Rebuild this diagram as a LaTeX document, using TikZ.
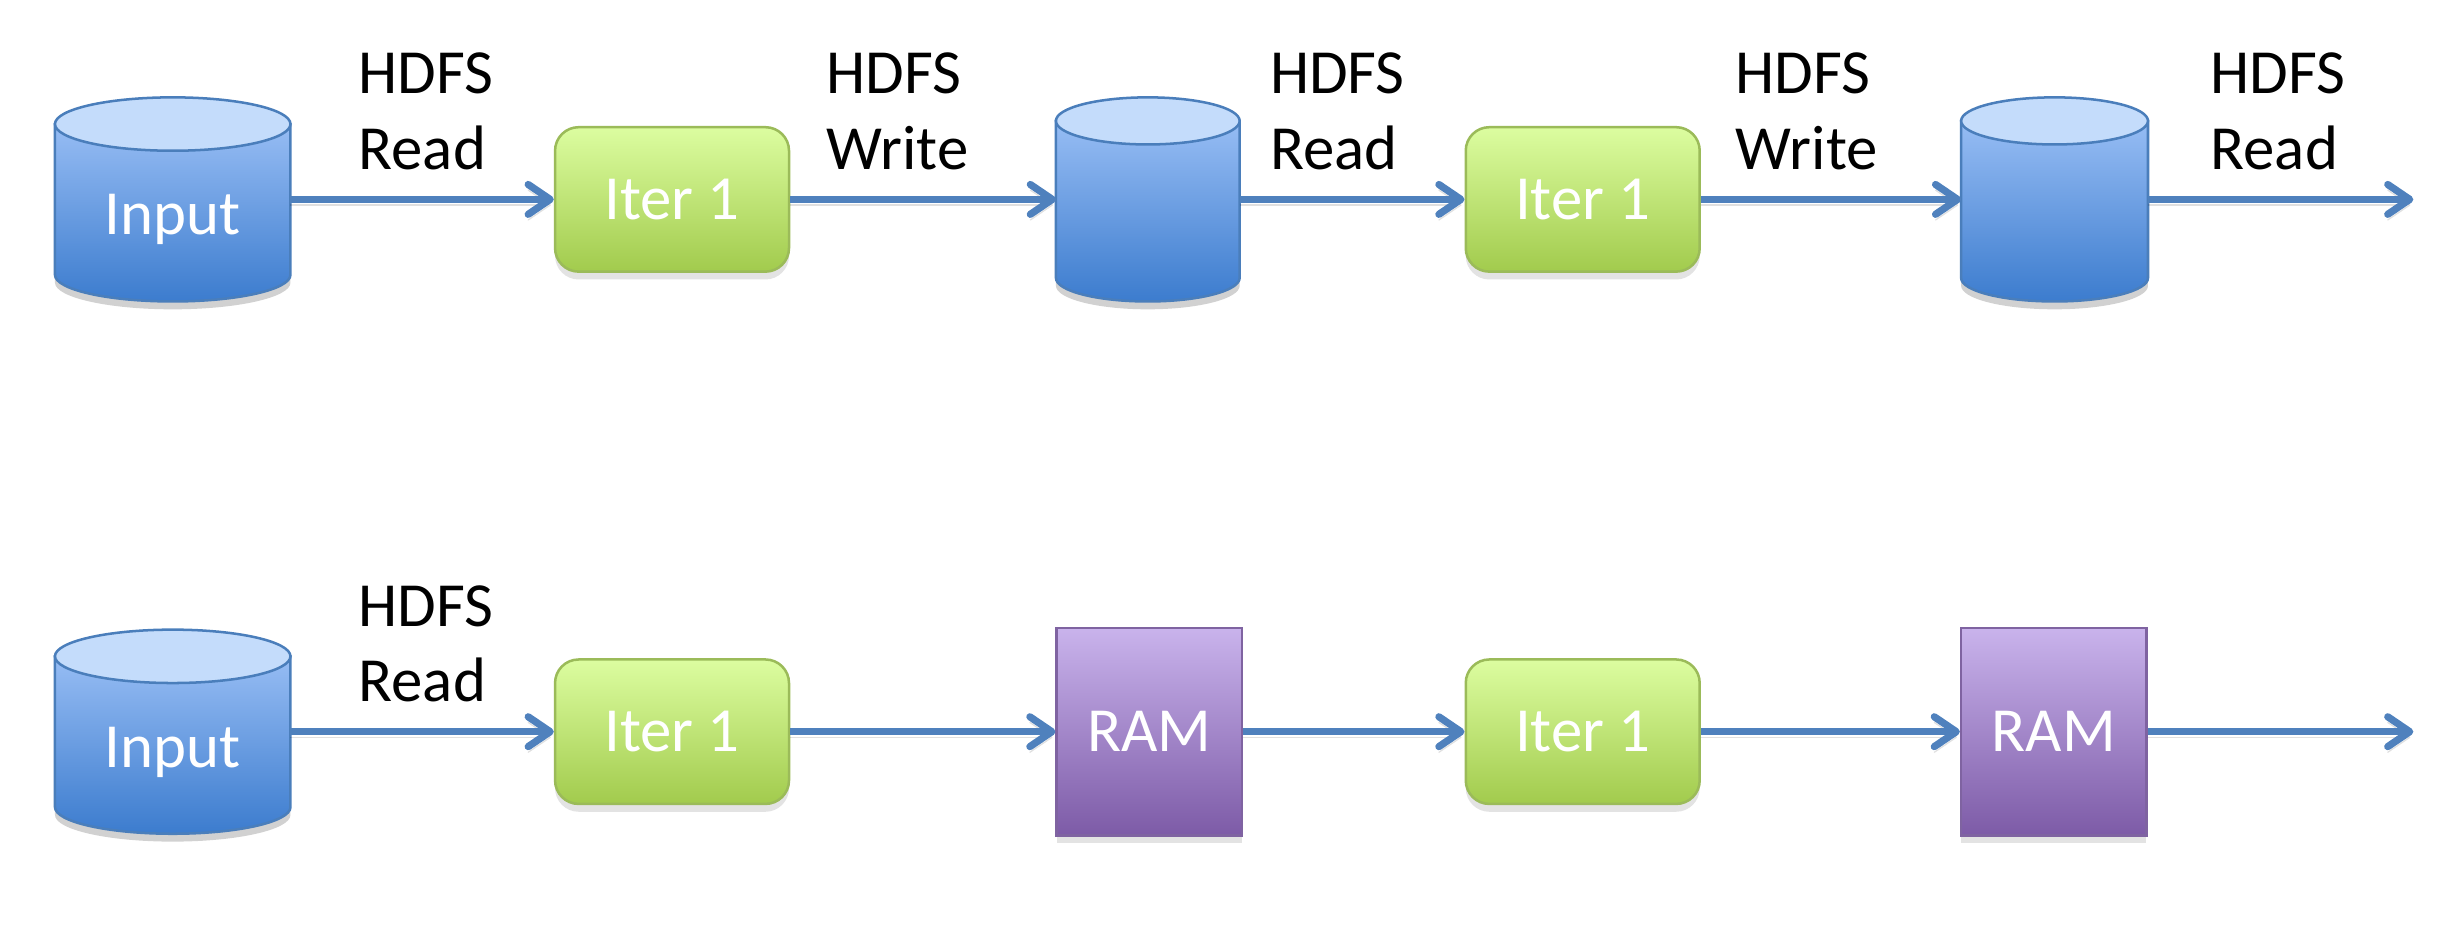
\documentclass[tikz,border=0pt]{standalone}
\usepackage{fontspec}
\setmainfont{Carlito}
\usetikzlibrary{arrows.meta,shadows}
\definecolor{arrowblue}{HTML}{4F81BD}
\definecolor{cylline}{HTML}{4A7EBB}
\definecolor{cyltop}{HTML}{C4DCFB}
\definecolor{cylhi}{HTML}{97BDF4}
\definecolor{cyllo}{HTML}{3C7CCE}
\definecolor{iterhi}{HTML}{DCFDA0}
\definecolor{iterlo}{HTML}{A2CB4D}
\definecolor{iterline}{HTML}{9BBB59}
\definecolor{ramhi}{HTML}{C9B3EC}
\definecolor{ramlo}{HTML}{7D5BA7}
\definecolor{ramline}{HTML}{7F63A1}
\tikzset{
  flow/.style={draw=arrowblue, line width=2.3pt,
    -{Straight Barb[length=7pt,width=9.5pt,line width=2.3pt,round]},
    preaction={draw=black, opacity=0.12, transform canvas={yshift=-1.8pt}}},
  boxfont/.style={font=\fontsize{20}{24}\selectfont},
  iterbox/.style={boxfont, draw=iterline, line width=0.8pt, rounded corners=7.5pt,
    top color=iterhi, bottom color=iterlo, text=white, inner sep=0pt,
    minimum width=74.5pt, minimum height=46pt,
    drop shadow={opacity=0.22, shadow xshift=0pt, shadow yshift=-2.5pt}},
  rambox/.style={boxfont, draw=ramline, line width=0.8pt,
    top color=ramhi, bottom color=ramlo, text=white, inner sep=0pt,
    minimum width=59pt, minimum height=66pt,
    drop shadow={opacity=0.22, shadow xshift=0pt, shadow yshift=-2.5pt}},
  cylbody/.style={draw=cylline, line width=0.8pt, top color=cylhi, bottom color=cyllo},
  cylcap/.style={draw=cylline, line width=0.8pt, fill=cyltop},
  cyltext/.style={boxfont, text=white, inner sep=0pt, anchor=base},
  lbl/.style={boxfont, anchor=north west, inner sep=0pt, align=left, text=black},
}
\newcommand{\dbcyl}[6]{%
  \pgfmathsetmacro\cylxl{#2-#5/2}%
  \pgfmathsetmacro\cylxr{#2+#5/2}%
  \pgfmathsetmacro\cylrx{#5/4}%
  \pgfmathsetmacro\cylry{#6/2}%
  \pgfmathsetmacro\cylyt{#3+#6}%
  \pgfmathsetmacro\cylyb{#4-#6}%
  \pgfmathsetmacro\cylym{(#3+#4)/2}%
  \pgfmathsetmacro\cylw{#5/2}%
  \pgfmathsetmacro\cylh{(#4-#3)/2}%
  \fill[black, opacity=0.18, yshift=-2.5pt] (\cylxl,\cylyt) -- (\cylxl,\cylyb)
    arc[start angle=180, end angle=360, x radius=\cylrx pt, y radius=\cylry pt]
    -- (\cylxr,\cylyt) -- cycle;
  \path[cylbody] (\cylxl,\cylyt) -- (\cylxl,\cylyb)
    arc[start angle=180, end angle=360, x radius=\cylrx pt, y radius=\cylry pt]
    -- (\cylxr,\cylyt) -- cycle;
  \path[cylcap] (#2,\cylyt) ellipse[x radius=\cylrx pt, y radius=\cylry pt];
  \node[inner sep=0pt, outer sep=0pt, minimum width=\cylw pt, minimum height=\cylh pt] (#1) at (#2,\cylym) {};
}
\begin{document}
\begin{tikzpicture}[x=0.5pt,y=-0.5pt]
\useasboundingbox (0,0) rectangle (1568,600);
% ---------- top row ----------
\dbcyl{c1}{110}{62}{192}{150}{17}
\node[cyltext] (c1t) at (110,149.5) {Input};
\node[iterbox] (i1) at (428,127) {Iter 1};
\dbcyl{c2}{731}{62}{192}{117}{15}
\node[iterbox] (i2) at (1008,127) {Iter 1};
\dbcyl{c3}{1308.5}{62}{192}{119}{15}
\coordinate (e1) at (1537,127);
\draw[flow] (c1.east) -- (i1.west);
\draw[flow] (i1.east) -- (c2.west);
\draw[flow] (c2.east) -- (i2.west);
\draw[flow] (i2.east) -- (c3.west);
\draw[flow] (c3.east) -- (e1);
\node[lbl] (l1) at (228,33.5) {HDFS\\Read};
\node[lbl] (l2) at (526,33.5) {HDFS\\Write};
\node[lbl] (l3) at (808.5,33.5) {HDFS\\Read};
\node[lbl] (l4) at (1105,33.5) {HDFS\\Write};
\node[lbl] (l5) at (1407.5,33.5) {HDFS\\Read};
% ---------- bottom row ----------
\dbcyl{d1}{110}{401}{531}{150}{17}
\node[cyltext] (d1t) at (110,488.5) {Input};
\node[iterbox] (j1) at (428,466) {Iter 1};
\node[rambox] (r1) at (732,466) {RAM};
\node[iterbox] (j2) at (1008,466) {Iter 1};
\node[rambox] (r2) at (1308,466) {RAM};
\coordinate (e2) at (1537,466);
\draw[flow] (d1.east) -- (j1.west);
\draw[flow] (j1.east) -- (r1.west);
\draw[flow] (r1.east) -- (j2.west);
\draw[flow] (j2.east) -- (r2.west);
\draw[flow] (r2.east) -- (e2);
\node[lbl] (m1) at (228,372.5) {HDFS\\Read};
\end{tikzpicture}
\end{document}
